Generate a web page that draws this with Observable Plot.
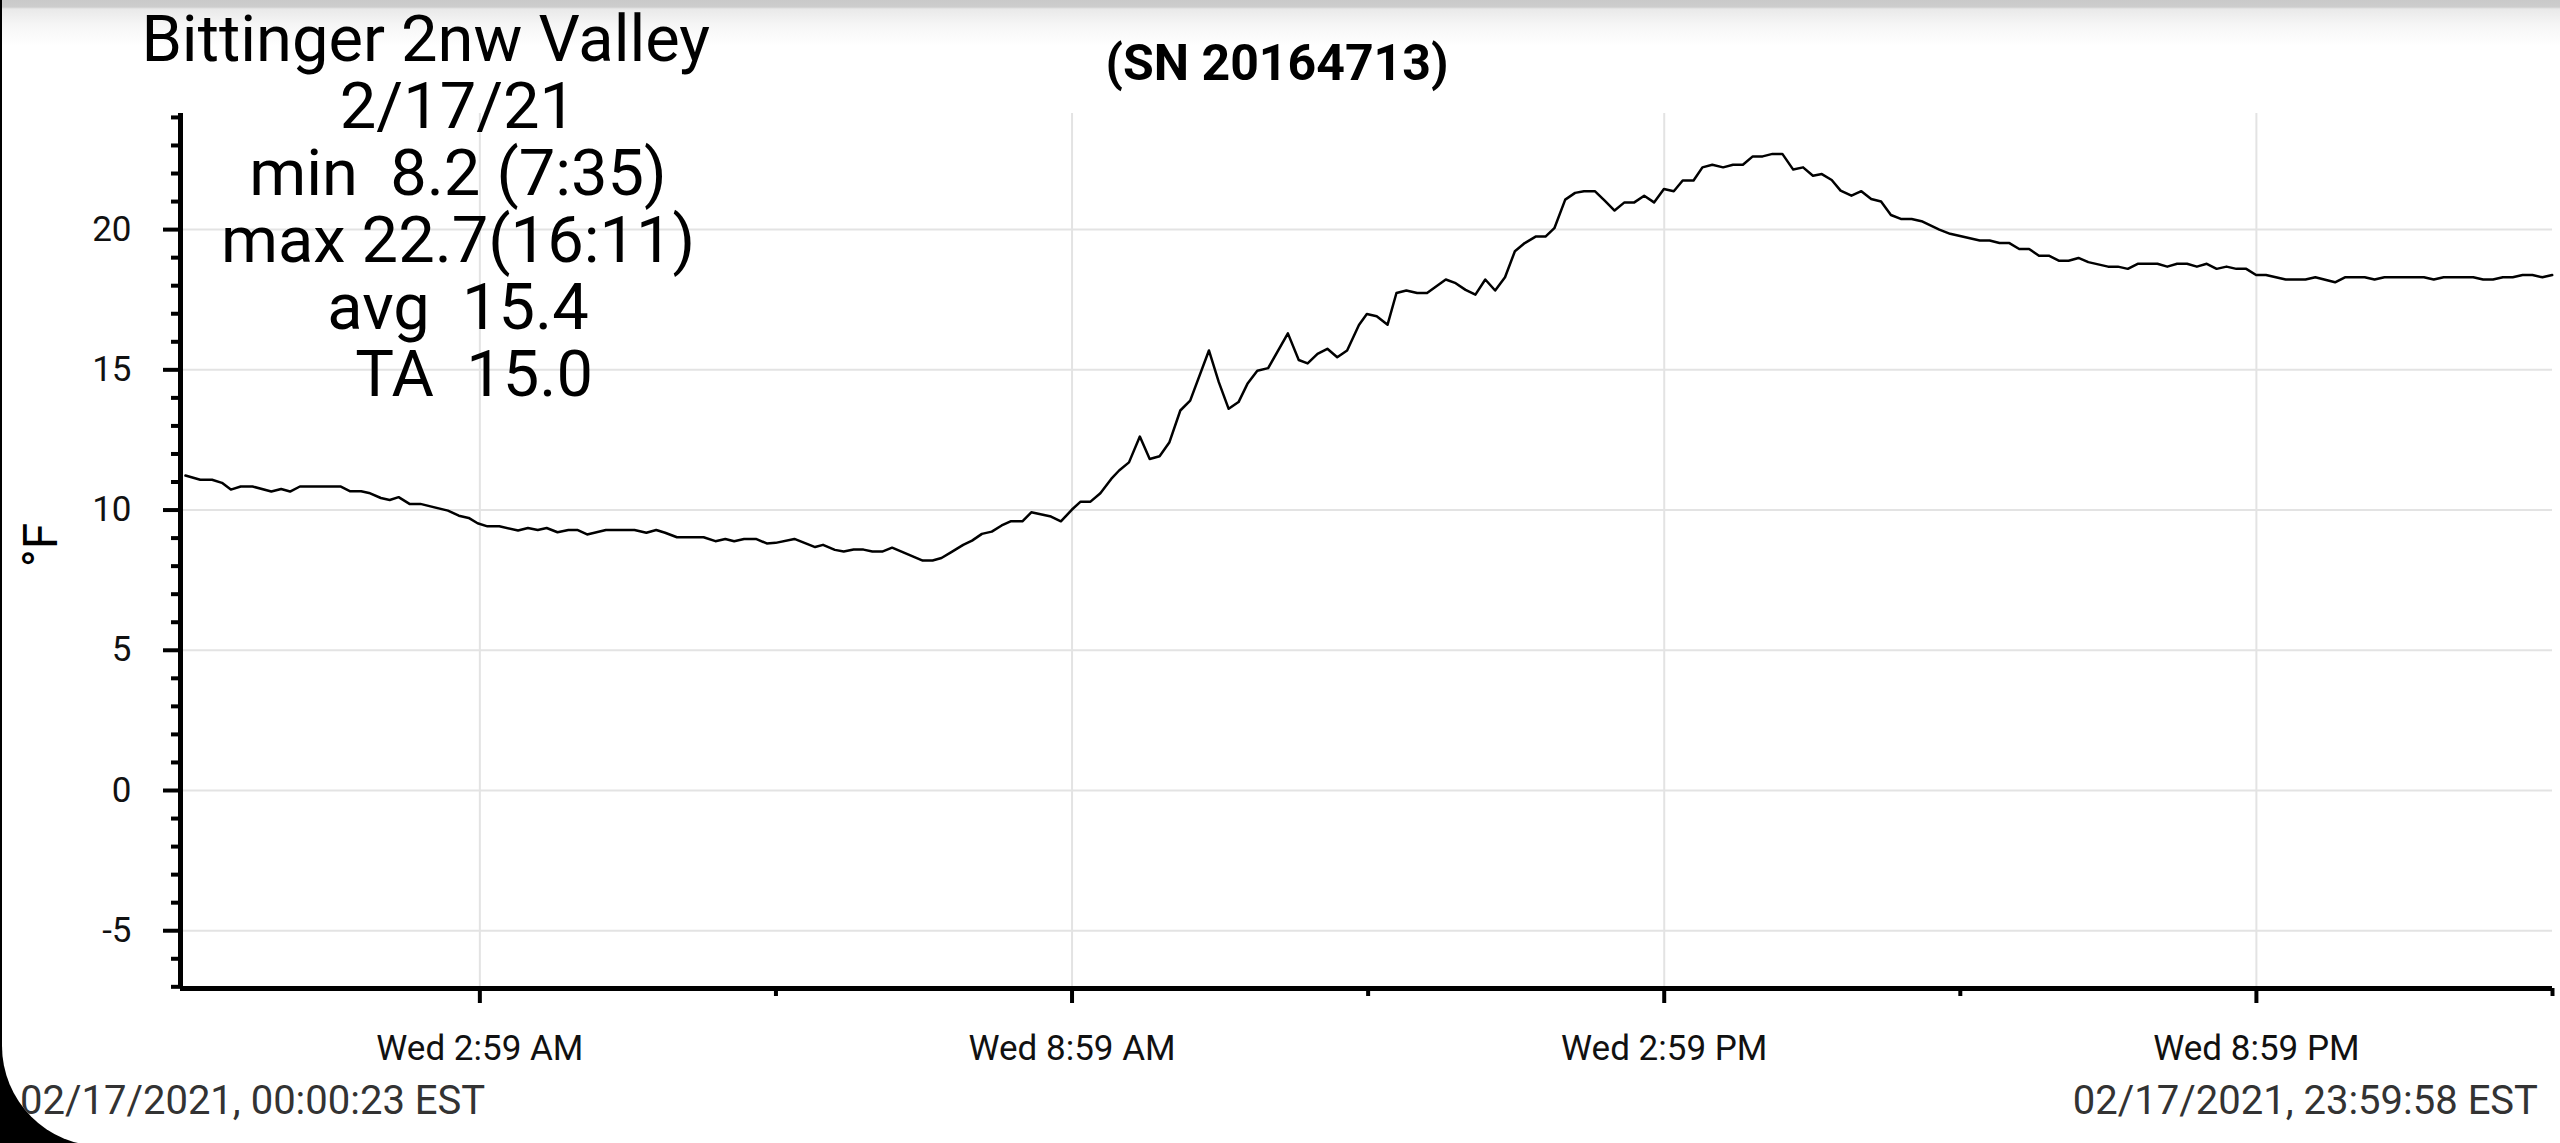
<!DOCTYPE html>
<html>
<head>
<meta charset="utf-8">
<script src="https://cdn.jsdelivr.net/npm/d3@7"></script>
<script src="https://cdn.jsdelivr.net/npm/@observablehq/plot@0.6"></script>
<style>
  html, body { margin: 0; padding: 0; background: #000; width: 2560px; height: 1143px; overflow: hidden; }
  #page { position: absolute; left: 2px; top: 0; width: 2558px; height: 1146px; background: #fff; border-bottom-left-radius: 100px; overflow: hidden; }
  #shade { position: absolute; left: 0; top: 0; width: 100%; height: 46px; background: linear-gradient(#c9c9c9 0px, #cdcdcd 7px, #e9e9e9 9px, #f6f6f6 25px, #ffffff 46px); }
  #chart { position: absolute; left: -2px; top: 0; }
  .txt { position: absolute; font-family: Roboto, sans-serif; white-space: pre; color: #000; }
  #stats { left: 106px; top: 6px; width: 700px; text-align: center; font-size: 65px; line-height: 67px; white-space: break-spaces; }
  #title { left: 975px; top: 38px; width: 600px; text-align: center; font-size: 50px; line-height: 50px; font-weight: bold; }
  #ylab { left: 39px; top: 545px; font-size: 48px; line-height: 48px; transform: translate(-50%, -50%) rotate(-90deg); }
  #tsl { left: 18px; top: 1081px; font-size: 40px; line-height: 40px; color: #333; }
  #tsr { right: 22px; top: 1081px; font-size: 40px; line-height: 40px; color: #333; }
</style>
</head>
<body>
<div id="page">
  <div id="shade"></div>
  <div id="chart"></div>
  <div class="txt" id="stats"></div>
  <div class="txt" id="title"></div>
  <div class="txt" id="ylab"></div>
  <div class="txt" id="tsl"></div>
  <div class="txt" id="tsr"></div>
</div>
<script>
// ---- data (hours of the day, °F) ----
const times = [
  0.00, 0.15, 0.27, 0.37, 0.46, 0.56, 0.68, 0.87, 0.97, 1.06, 1.16, 1.57, 1.67, 1.78, 1.86, 1.98,
  2.07, 2.16, 2.27, 2.38, 2.66, 2.77, 2.87, 2.96, 3.06, 3.18, 3.37, 3.47, 3.57, 3.66, 3.77, 3.88,
  3.97, 4.07, 4.26, 4.55, 4.67, 4.77, 4.86, 4.98, 5.25, 5.37, 5.47, 5.56, 5.66, 5.78, 5.89, 5.98,
  6.17, 6.38, 6.46, 6.58, 6.67, 6.77, 6.87, 6.96, 7.06, 7.16, 7.47, 7.57, 7.66, 7.76, 7.88, 7.97,
  8.07, 8.17, 8.27, 8.36, 8.48, 8.57, 8.77, 8.87, 8.98, 9.07, 9.17, 9.27, 9.38, 9.46, 9.56, 9.67,
  9.77, 9.87, 9.97, 10.08, 10.18, 10.37, 10.47, 10.57, 10.67, 10.76, 10.86, 10.97, 11.17, 11.28, 11.37, 11.47,
  11.57, 11.67, 11.77, 11.89, 11.97, 12.07, 12.18, 12.27, 12.37, 12.48, 12.58, 12.77, 12.87, 12.97, 13.07, 13.17,
  13.27, 13.37, 13.47, 13.57, 13.68, 13.78, 13.87, 13.98, 14.08, 14.17, 14.28, 14.38, 14.48, 14.58, 14.68, 14.78,
  14.88, 14.98, 15.08, 15.17, 15.28, 15.37, 15.47, 15.58, 15.68, 15.78, 15.88, 15.98, 16.08, 16.18, 16.29, 16.39,
  16.49, 16.58, 16.68, 16.77, 16.88, 16.98, 17.08, 17.18, 17.28, 17.38, 17.49, 17.59, 17.77, 17.88, 18.18, 18.28,
  18.38, 18.48, 18.58, 18.68, 18.78, 18.88, 18.98, 19.08, 19.18, 19.28, 19.48, 19.58, 19.68, 19.78, 19.98, 20.08,
  20.18, 20.28, 20.38, 20.48, 20.58, 20.68, 20.78, 20.88, 20.98, 21.08, 21.28, 21.48, 21.58, 21.78, 21.88, 22.08,
  22.18, 22.28, 22.68, 22.78, 22.88, 23.18, 23.28, 23.38, 23.48, 23.58, 23.68, 23.78, 23.88, 23.98
];
const temps = [
  11.23, 11.08, 11.08, 10.97, 10.73, 10.84, 10.84, 10.66, 10.75, 10.66, 10.84, 10.84, 10.67, 10.67, 10.61, 10.43,
  10.36, 10.46, 10.22, 10.22, 9.98, 9.80, 9.72, 9.53, 9.42, 9.42, 9.27, 9.36, 9.29, 9.36, 9.21, 9.29,
  9.29, 9.13, 9.29, 9.29, 9.19, 9.29, 9.19, 9.03, 9.03, 8.89, 8.97, 8.89, 8.97, 8.97, 8.81, 8.83,
  8.97, 8.68, 8.76, 8.58, 8.52, 8.59, 8.59, 8.52, 8.52, 8.66, 8.20, 8.20, 8.29, 8.50, 8.76, 8.91,
  9.15, 9.23, 9.45, 9.60, 9.60, 9.92, 9.77, 9.60, 10.01, 10.30, 10.30, 10.60, 11.11, 11.41, 11.70, 12.62,
  11.82, 11.92, 12.42, 13.55, 13.90, 15.69, 14.56, 13.61, 13.85, 14.50, 14.97, 15.06, 16.30, 15.35, 15.23, 15.57,
  15.75, 15.45, 15.69, 16.60, 16.99, 16.91, 16.61, 17.74, 17.83, 17.74, 17.74, 18.22, 18.09, 17.85, 17.68, 18.22,
  17.83, 18.30, 19.23, 19.52, 19.75, 19.75, 20.05, 21.07, 21.31, 21.37, 21.37, 21.03, 20.68, 20.97, 20.97, 21.21,
  20.97, 21.45, 21.37, 21.75, 21.75, 22.22, 22.31, 22.22, 22.31, 22.31, 22.61, 22.61, 22.70, 22.70, 22.14, 22.22,
  21.92, 21.98, 21.77, 21.39, 21.21, 21.37, 21.09, 21.00, 20.52, 20.38, 20.38, 20.30, 20.00, 19.85, 19.61, 19.61,
  19.52, 19.52, 19.31, 19.31, 19.07, 19.07, 18.89, 18.89, 18.99, 18.84, 18.68, 18.68, 18.60, 18.78, 18.78, 18.68,
  18.78, 18.78, 18.68, 18.78, 18.60, 18.68, 18.60, 18.60, 18.38, 18.38, 18.22, 18.22, 18.30, 18.12, 18.30, 18.30,
  18.22, 18.30, 18.30, 18.22, 18.30, 18.30, 18.22, 18.22, 18.30, 18.30, 18.38, 18.38, 18.30, 18.38
];

// ---- axes ----
const yMajor = [-5, 0, 5, 10, 15, 20];
const yMajorLabels = ["-5", "0", "5", "10", "15", "20"];
const yMinor = [-7, -6, -4, -3, -2, -1, 1, 2, 3, 4, 6, 7, 8, 9, 11, 12, 13, 14, 16, 17, 18, 19, 21, 22, 23, 24];
const xMajor = [2.983, 8.983, 14.983, 20.983];
const xMajorLabels = ["Wed 2:59 AM", "Wed 8:59 AM", "Wed 2:59 PM", "Wed 8:59 PM"];
const xMinor = [5.983, 11.983, 17.983, 23.983];
const xDomain = [-0.05, 23.983];
const yDomain = [-7.06, 24.14];

// ---- texts ----
const statsLines = ["Bittinger 2nw Valley    ", "2/17/21", "min  8.2 (7:35)", "max 22.7(16:11)", "avg  15.4", "  TA  15.0"];
const titleText = "(SN 20164713)";
const yLabelText = "°F";
const startStamp = "02/17/2021, 00:00:23 EST";
const endStamp = "02/17/2021, 23:59:58 EST";

const data = times.map((t, i) => ({t, v: temps[i]}));

const chart = Plot.plot({
  width: 2560,
  height: 1143,
  marginLeft: 180,
  marginRight: 8,
  marginTop: 113,
  marginBottom: 155,
  x: {domain: xDomain},
  y: {domain: yDomain},
  style: {fontFamily: "Roboto, sans-serif", fontSize: "35px", background: "transparent", color: "#111"},
  marks: [
    Plot.gridY(yMajor, {stroke: "#e3e3e3", strokeOpacity: 1, strokeWidth: 2}),
    Plot.gridX(xMajor, {stroke: "#e3e3e3", strokeOpacity: 1, strokeWidth: 2}),
    Plot.axisY(yMinor, {tickSize: 9, strokeWidth: 4, stroke: "#000", tickFormat: () => "", label: null}),
    Plot.axisY(yMajor, {tickSize: 17, strokeWidth: 4, stroke: "#000", tickPadding: 32, tickFormat: d => yMajorLabels[yMajor.indexOf(d)], label: null}),
    Plot.axisX(xMinor, {tickSize: 8, strokeWidth: 4, stroke: "#000", tickFormat: () => "", label: null}),
    Plot.axisX(xMajor, {tickSize: 15, strokeWidth: 4, stroke: "#000", tickPadding: 32, tickFormat: d => xMajorLabels[xMajor.indexOf(d)], label: null}),
    Plot.ruleX([xDomain[0]], {stroke: "#000", strokeWidth: 5}),
    Plot.ruleY([yDomain[0]], {stroke: "#000", strokeWidth: 5}),
    Plot.line(data, {x: "t", y: "v", stroke: "#000", strokeWidth: 2.5})
  ]
});
document.getElementById("chart").appendChild(chart);
document.getElementById("stats").textContent = statsLines.join("\n");
document.getElementById("title").textContent = titleText;
document.getElementById("ylab").textContent = yLabelText;
document.getElementById("tsl").textContent = startStamp;
document.getElementById("tsr").textContent = endStamp;
</script>
</body>
</html>
